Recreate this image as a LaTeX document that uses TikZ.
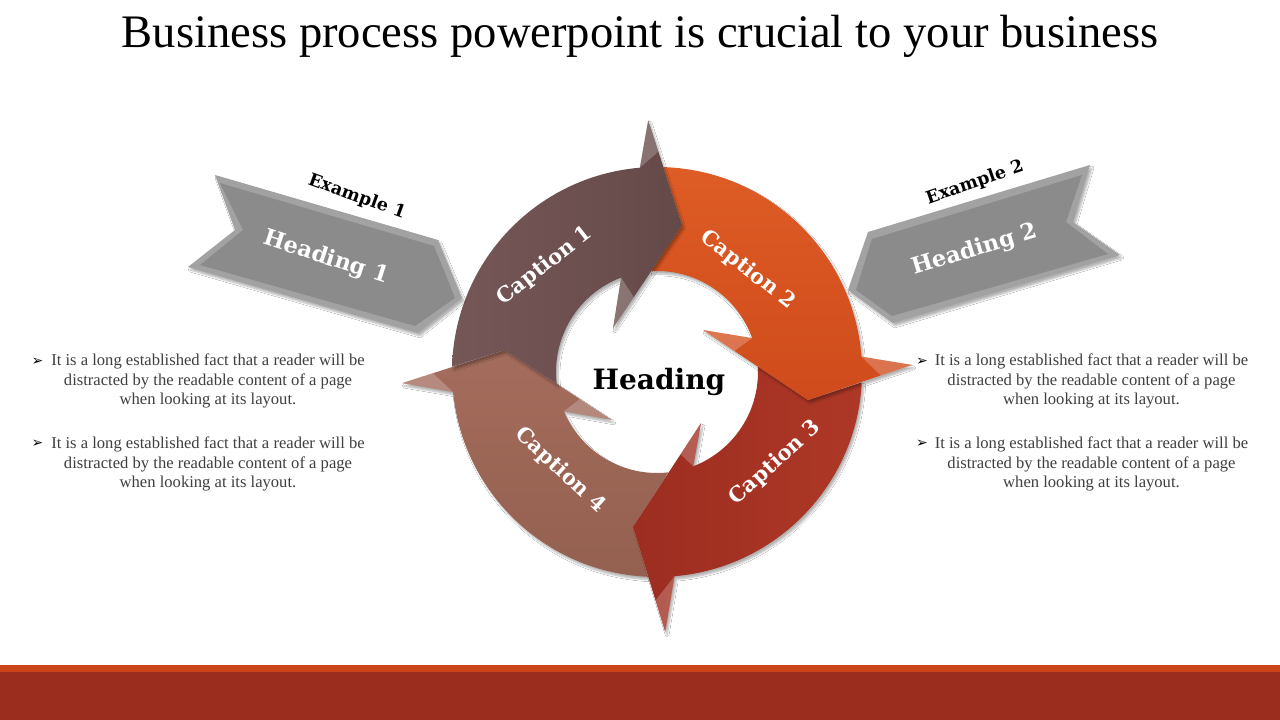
\documentclass[tikz,border=0pt]{standalone}
\usepackage{fontspec}
\setmainfont{Liberation Serif}
\newfontfamily\capfont{DejaVu Serif}
\newfontfamily\symfont{DejaVu Sans}
\usetikzlibrary{calc,shadows.blur}
\definecolor{mauve}{HTML}{654949}
\definecolor{mauvelt}{HTML}{765757}
\definecolor{orng}{HTML}{CF4B1C}
\definecolor{orngl}{HTML}{DE5C25}
\definecolor{dred}{HTML}{9C2D20}
\definecolor{dredl}{HTML}{AE3827}
\definecolor{salm}{HTML}{94604F}
\definecolor{salml}{HTML}{A46C5C}
\definecolor{grayout}{HTML}{A2A2A2}
\definecolor{grayface}{HTML}{8B8B8B}
\definecolor{txtgray}{HTML}{3F3F3F}
\definecolor{barorange}{HTML}{CC4519}
\definecolor{barred}{HTML}{9B2D1F}
\tikzset{
  ringpiece/.style={blur shadow={shadow xshift=2pt,shadow yshift=-3pt,shadow blur steps=6,shadow opacity=30}},
  facet/.style={fill=white,fill opacity=0.22},
  grayarrow/.style={fill=grayout,blur shadow={shadow xshift=2pt,shadow yshift=-3pt,shadow blur steps=6,shadow opacity=30}},
  grayfacet/.style={fill=grayface},
  captxt/.style={text=white,font=\capfont\bfseries\fontsize{21}{24}\selectfont,inner sep=0pt},
  headtxt/.style={text=white,font=\capfont\bfseries\fontsize{22.5}{26}\selectfont,inner sep=0pt},
  extxt/.style={text=black,font=\capfont\bfseries\fontsize{17.5}{20}\selectfont,inner sep=0pt},
  bodytxt/.style={align=center,text=txtgray,font=\fontsize{16.6}{19.5}\selectfont,inner sep=0pt},
  bulletmark/.style={text=black,font=\symfont\fontsize{14}{14}\selectfont,inner sep=0pt}
}
\begin{document}
\begin{tikzpicture}[x=1pt,y=1pt]
\useasboundingbox (0,0) rectangle (1280,720);
\fill[white] (0,0) rectangle (1280,720);

% title
\node[inner sep=0pt] (title) at (640,684) {\fontsize{46.6}{52}\selectfont Business process powerpoint is crucial to your business};

% bottom bar
\fill[barorange] (0,48) rectangle (1280,55);
\fill[barred] (0,0) rectangle (1280,48);

% ring geometry
\coordinate (C) at (657,348);
\coordinate (tip1) at ($(C)+(80.3:149)$);
\coordinate (ob1) at ($(C)+(92:252)$);
\coordinate (ib1) at ($(C)+(135:62.2)$);
\coordinate (bo1) at ($(C)+(94.8:205)$);
\coordinate (bi1) at ($(C)+(110.8:101)$);
\coordinate (tip2) at ($(C)+(-10.5:153.6)$);
\coordinate (ob2) at ($(C)+(1.6:255)$);
\coordinate (ib2) at ($(C)+(42.4:62.3)$);
\coordinate (bo2) at ($(C)+(4.3:205)$);
\coordinate (bi2) at ($(C)+(19.6:101)$);
\coordinate (tip3) at ($(C)+(-98.8:156.8)$);
\coordinate (ob3) at ($(C)+(-88.2:260.1)$);
\coordinate (ib3) at ($(C)+(-49.2:67.4)$);
\coordinate (bo3) at ($(C)+(-85.1:205)$);
\coordinate (bi3) at ($(C)+(-69:101)$);
\coordinate (tip4) at ($(C)+(171.8:153.6)$);
\coordinate (ob4) at ($(C)+(182.5:255.2)$);
\coordinate (ib4) at ($(C)+(226.8:65.8)$);
\coordinate (bo4) at ($(C)+(185.6:205)$);
\coordinate (bi4) at ($(C)+(202.9:101)$);

% Caption 4 piece
\path[ringpiece, top color=salml, bottom color=salm] ($(C)+(-92.5:205)$) -- (tip3) -- ($(C)+(-83.6:101)$)
  arc[start angle=-83.6, end angle=-157.1, radius=101] -- (ib4) -- (tip4) -- (ob4)
  -- (bo4) arc[start angle=185.6, end angle=267.5, radius=205] -- cycle;
% Caption 3 piece
\path[ringpiece, left color=dred, right color=dredl] ($(C)+(-2.9:205)$) -- (tip2) -- ($(C)+(3.2:101)$)
  arc[start angle=3.2, end angle=-69, radius=101] -- (ib3) -- (tip3) -- (ob3)
  -- (bo3) arc[start angle=-85.1, end angle=-2.9, radius=205] -- cycle;
% Caption 2 piece
\path[ringpiece, top color=orngl, bottom color=orng] ($(C)+(88.2:205)$) -- (tip1) -- ($(C)+(93.4:101)$)
  arc[start angle=93.4, end angle=19.6, radius=101] -- (ib2) -- (tip2) -- (ob2)
  -- (bo2) arc[start angle=4.3, end angle=88.2, radius=205] -- cycle;
% Caption 1 piece
\path[ringpiece, left color=mauvelt, right color=mauve] ($(C)+(178.5:205)$) -- (tip4) -- ($(C)+(186.6:101)$)
  arc[start angle=186.6, end angle=110.8, radius=101] -- (ib1) -- (tip1) -- (ob1)
  -- (bo1) arc[start angle=94.8, end angle=178.5, radius=205] -- cycle;

% bevel highlights on the arrow heads
\foreach \i in {1,2,3,4}{
  \fill[facet] (ob\i) -- (bo\i) -- ($(ob\i)!0.3!(tip\i)$) -- cycle;
  \fill[facet] (ib\i) -- (bi\i) -- ($(ib\i)!0.3!(tip\i)$) -- cycle;
}

% ring labels
\node[captxt, rotate=38] (cap1) at (545,454) {Caption 1};
\node[captxt, rotate=-38] (cap2) at (748,450) {Caption 2};
\node[captxt, rotate=42] (cap3) at (775,257) {Caption 3};
\node[captxt, rotate=-43] (cap4) at (560,250) {Caption 4};
\node[inner sep=0pt, font=\capfont\bfseries\fontsize{28}{32}\selectfont] (center) at (659,338) {Heading};

% left gray arrow
\path[grayarrow] (215,545) -- (438,480) -- (462,422) -- (418,387) -- (188,453) -- (235,490) -- cycle;
\path[grayfacet] (220,537) -- (434,474) -- (455,422) -- (415,394) -- (200,455) -- (243,490) -- cycle;
\node[headtxt, rotate=-18] (h1) at (326,462) {Heading 1};
\node[extxt, rotate=-20] (e1) at (357,523) {Example 1};

% right gray arrow
\path[grayarrow] (868,488) -- (1090,555) -- (1073,498) -- (1120,465) -- (893,397) -- (848,430) -- cycle;
\path[grayfacet] (872,481) -- (1082,545) -- (1066,498) -- (1108,466) -- (892,404) -- (856,430) -- cycle;
\node[headtxt, rotate=17] (h2) at (975,470) {Heading 2};
\node[extxt, rotate=19] (e2) at (975,537) {Example 2};

% body text left
\node[bodytxt] (lp1) at (208,339) {It is a long established fact that a reader will be\\distracted by the readable content of a page\\when looking at its layout.};
\node[bulletmark] (lb1) at (37.5,358) {➢};
\node[bodytxt] (lp2) at (208,256) {It is a long established fact that a reader will be\\distracted by the readable content of a page\\when looking at its layout.};
\node[bulletmark] (lb2) at (37.5,276) {➢};
% body text right
\node[bodytxt] (rp1) at (1091.5,339) {It is a long established fact that a reader will be\\distracted by the readable content of a page\\when looking at its layout.};
\node[bulletmark] (rb1) at (922,358) {➢};
\node[bodytxt] (rp2) at (1091.5,256) {It is a long established fact that a reader will be\\distracted by the readable content of a page\\when looking at its layout.};
\node[bulletmark] (rb2) at (922,276) {➢};
\end{tikzpicture}
\end{document}
